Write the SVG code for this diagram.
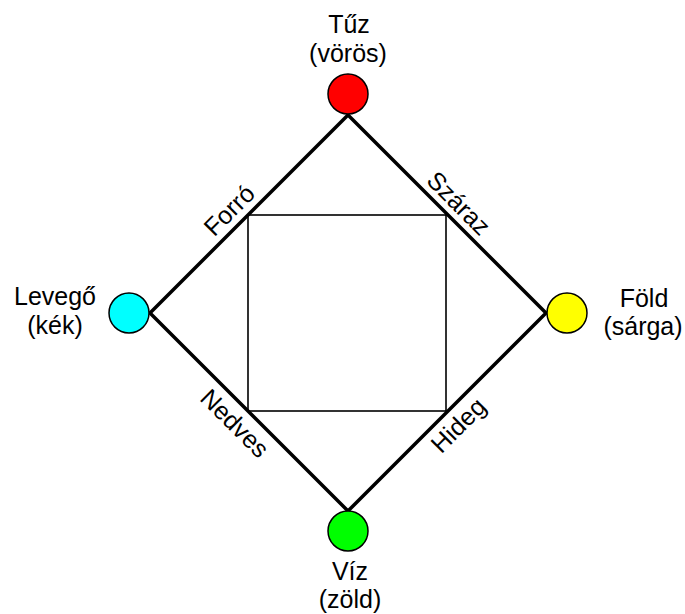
<svg xmlns="http://www.w3.org/2000/svg" width="685" height="614" viewBox="0 0 685 614">
<style>
text{font-family:"Liberation Sans",Arial,sans-serif;font-size:25px;fill:#000;text-anchor:middle}
.node circle{stroke:#000;stroke-width:1.5}
.edge{stroke:#000;stroke-width:3.5;fill:none;stroke-linecap:butt}
.sq{stroke:#000;stroke-width:1.6;fill:none}
</style>
<rect width="685" height="614" fill="#fff"/>
<g id="connectors">
<polygon class="edge" points="348,115 546,313 348,511 150,313" stroke-linejoin="miter"/>
<rect class="sq" x="248" y="215" width="198" height="196"/>
</g>
<g id="edge-labels">
<text transform="translate(241,222) rotate(-45)" y="-8">Forró</text>
<text transform="translate(447,215) rotate(45)" y="-8">Száraz</text>
<text transform="translate(247,411) rotate(45)" y="26">Nedves</text>
<text transform="translate(446,413) rotate(-45)" y="26">Hideg</text>
</g>
<g id="tuz" class="node">
<circle cx="348" cy="94" r="20" fill="#ff0000"/>
<text x="349" y="33">Tűz</text>
<text x="348" y="62">(vörös)</text>
</g>
<g id="levego" class="node">
<circle cx="129" cy="313" r="20" fill="#00ffff"/>
<text x="55" y="305">Levegő</text>
<text x="55" y="334">(kék)</text>
</g>
<g id="fold" class="node">
<circle cx="567" cy="313" r="20" fill="#ffff00"/>
<text x="644" y="307">Föld</text>
<text x="643" y="335">(sárga)</text>
</g>
<g id="viz" class="node">
<circle cx="348" cy="531" r="20" fill="#00ff00"/>
<text x="350" y="580">Víz</text>
<text x="350" y="608">(zöld)</text>
</g>
</svg>
